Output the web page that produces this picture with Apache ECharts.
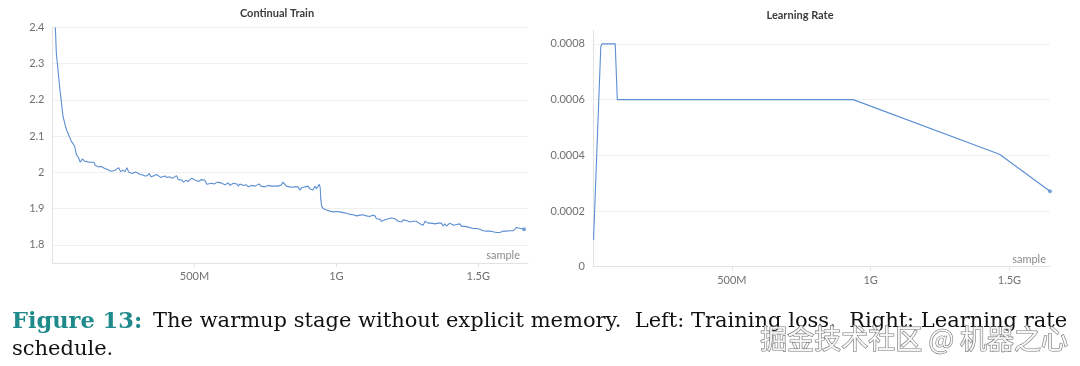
<!DOCTYPE html>
<html>
<head>
<meta charset="utf-8">
<script src="https://cdn.jsdelivr.net/npm/echarts@6/dist/echarts.min.js"></script>
<style>
html,body{margin:0;padding:0;background:#fff;}
#chart{width:1080px;height:366px;}
</style>
</head>
<body>
<div id="chart"></div>
<script>
// ---- Data (x in millions of samples) ----
const lossX = [10,13.5,25,37,49,66,78,84,90,98,105,113,131,146,151,158,164,172,181,190,199,207,213,221,228,233,240,248,256,262,269,
282,291,299,308,318,326,334,341,347,353,359,367,373,381,388,396,404,412,420,428,437,443,449,455,461,470,478,484,490,496,502,508,514,520,525,531,537,543,550,561,569,576,581,588,592,599,608,613,619,625,631,637,643,649,655,660,667,674,682,690,
695,701,707,713,718,728,734,740,748,754,760,765,771,777,783,789,795,801,807,812,818,824,830,836,845,853,859,865,871,877,883,889,895,900,906,912,918,924,930,936,940,943,945,948,954,
965,977,989,995,1001,1012,1024,1036,1048,1059,1071,1083,1094,1106,
1118,1127,1136,1141,1147,1153,1159,1165,1171,1177,1183,1188,1194,1200,1206,1212,1218,1224,1230,1235,1241,1247,1253,1259,1265,1271,1276,1282,1288,1294,1300,1306,1312,1318,1323,1329,1335,1341,1347,1353,1359,1365,1370,1376,1382,1388,1394,1400,1406,1412,1417,1423,1429,1435,1441,1447,1453,1458,1464,1470,1482,1494,1505,1517,1529,1541,1552,1564,1576,1588,1599,1611,1623,1629,1635,1646,1661];
const lossY = [2.400,2.329,2.237,2.154,2.118,2.086,2.072,2.049,2.043,2.028,2.037,2.031,2.028,2.028,2.019,2.021,2.015,2.016,2.012,2.009,2.006,2.003,1.998,2.006,2.008,2.013,2.002,2.006,2.002,2.013,2.000,
1.997,2.001,1.999,1.994,1.993,1.990,1.991,1.997,1.988,1.984,1.991,1.994,1.990,1.986,1.991,1.990,1.986,1.988,1.984,1.986,1.991,1.980,1.976,1.979,1.973,1.978,1.975,1.980,1.984,1.980,1.979,1.982,1.975,1.977,1.980,1.975,1.978,1.967,1.970,1.970,1.968,1.971,1.973,1.970,1.971,1.971,1.966,1.970,1.971,1.964,1.968,1.970,1.966,1.968,1.962,1.968,1.970,1.964,1.966,1.960,
1.962,1.964,1.959,1.962,1.960,1.968,1.962,1.964,1.960,1.962,1.964,1.959,1.962,1.964,1.962,1.966,1.962,1.960,1.966,1.973,1.968,1.962,1.964,1.960,1.959,1.960,1.957,1.960,1.951,1.957,1.953,1.960,1.957,1.962,1.955,1.959,1.951,1.962,1.955,1.960,1.967,1.958,1.926,1.907,1.900,
1.896,1.893,1.891,1.887,1.892,1.891,1.889,1.887,1.884,1.883,1.880,1.882,1.883,1.880,
1.878,1.882,1.880,1.872,1.869,1.871,1.865,1.861,1.869,1.867,1.872,1.869,1.874,1.871,1.872,1.869,1.865,1.869,1.863,1.869,1.865,1.867,1.871,1.863,1.867,1.865,1.861,1.865,1.863,1.858,1.860,1.854,1.865,1.861,1.860,1.863,1.860,1.861,1.858,1.861,1.860,1.856,1.860,1.852,1.858,1.852,1.856,1.860,1.858,1.854,1.852,1.856,1.852,1.858,1.851,1.849,1.851,1.847,1.849,1.845,1.845,1.845,1.843,1.839,1.838,1.838,1.836,1.834,1.834,1.838,1.838,1.839,1.839,1.843,1.848,1.846,1.843];

const lrX = [2, 28, 32, 80, 87.5, 937, 1464, 1646];
const lrY = [0.0000965, 0.00079, 0.0008, 0.0008, 0.0006, 0.0006, 0.000404, 0.000271];

const xTickValues = [500, 1000, 1500];

const titles = ['Continual Train', 'Learning Rate'];
const xName = 'sample';
const captionBold = 'Figure 13:';
const captionLine1 = 'The warmup stage without explicit memory.  Left: Training loss.  Right: Learning rate';
const captionLine2 = 'schedule.';
const watermark = '掘金技术社区 @ 机器之心';

// ---- Build ----
const lossData = lossX.map((x, i) => [x, lossY[i]]);
const lrData = lrX.map((x, i) => [x, lrY[i]]);

const LINE = '#5c8fd2';
const AXIS = '#e3e3e3';
const GRIDC = '#f0f0f0';
const LABEL = '#707070';
const FONT = 'Lato, "Noto Sans", sans-serif';

function xLabel(v) {
  if (Math.abs(v % 500) > 1e-6 || v === 0) return '';
  return v >= 1000 ? (v / 1000) + 'G' : v + 'M';
}
function lossLabel(v) {
  const k = v * 10;
  if (Math.abs(k - Math.round(k)) > 1e-6) return '';
  return String(Math.round(k) / 10);
}
function lrLabel(v) {
  const k = v / 0.0002;
  if (Math.abs(k - Math.round(k)) > 1e-6) return '';
  const r = Math.round(k);
  return r === 0 ? '0' : (r * 0.0002).toFixed(4);
}

function xAxis(gridIndex, max, gap) {
  return {
    type: 'value', gridIndex, min: 0, max, interval: 500,
    name: xName, nameLocation: 'end', nameGap: gap,
    nameTextStyle: { align: 'right', verticalAlign: 'bottom', color: '#8a8a8a', fontSize: 11, fontFamily: FONT, padding: [0, 0, 2, 0] },
    axisLine: { show: true, lineStyle: { color: AXIS, width: 1 } },
    axisTick: { show: true, customValues: xTickValues, length: 4, lineStyle: { color: AXIS } },
    axisLabel: { customValues: xTickValues, formatter: xLabel, color: LABEL, fontSize: 11, fontFamily: FONT, margin: 8 },
    splitLine: { show: false }
  };
}

const chart = echarts.init(document.getElementById('chart'), null, { renderer: 'canvas' });
chart.setOption({
  backgroundColor: '#ffffff',
  animation: false,
  grid: [
    { left: 52.5, top: 27.3, width: 475.5, height: 235.7, containLabel: false },
    { left: 593, top: 30, width: 457, height: 236.7, containLabel: false }
  ],
  xAxis: [ xAxis(0, 1675, -8), xAxis(1, 1646, -4) ],
  yAxis: [
    {
      type: 'value', gridIndex: 0, min: 1.75, max: 2.4, interval: 0.05,
      axisLine: { show: true, lineStyle: { color: AXIS } },
      axisTick: { show: false },
      axisLabel: { formatter: lossLabel, color: LABEL, fontSize: 11, fontFamily: FONT, margin: 8 },
      splitLine: { show: true, lineStyle: { color: ['rgba(0,0,0,0)', GRIDC], width: 1 } }
    },
    {
      type: 'value', gridIndex: 1, min: 0, max: 0.00085, interval: 0.00005,
      axisLine: { show: true, lineStyle: { color: AXIS } },
      axisTick: { show: false },
      axisLabel: { formatter: lrLabel, color: LABEL, fontSize: 11, fontFamily: FONT, margin: 8 },
      splitLine: { show: true, lineStyle: { color: [GRIDC, 'rgba(0,0,0,0)', 'rgba(0,0,0,0)', 'rgba(0,0,0,0)'], width: 1 } }
    }
  ],
  series: [
    { type: 'line', xAxisIndex: 0, yAxisIndex: 0, data: lossData, showSymbol: false, symbol: 'none',
      lineStyle: { color: LINE, width: 1.1 }, clip: true },
    { type: 'scatter', xAxisIndex: 0, yAxisIndex: 0, data: [lossData[lossData.length - 1]], symbolSize: 4,
      itemStyle: { color: LINE } },
    { type: 'line', xAxisIndex: 1, yAxisIndex: 1, data: lrData, showSymbol: false, symbol: 'none',
      lineStyle: { color: LINE, width: 1.1 }, clip: false },
    { type: 'scatter', xAxisIndex: 1, yAxisIndex: 1, data: [lrData[lrData.length - 1]], symbolSize: 4,
      itemStyle: { color: LINE } }
  ],
  graphic: [
    { type: 'text', x: 277, y: 13, style: { text: titles[0], font: 'bold 11px ' + FONT, fill: '#3c3c3c', align: 'center', verticalAlign: 'middle' } },
    { type: 'text', x: 800, y: 15, style: { text: titles[1], font: 'bold 11px ' + FONT, fill: '#3c3c3c', align: 'center', verticalAlign: 'middle' } },
    { type: 'text', x: 12, y: 322, style: { text: captionBold, font: 'bold 22.5px "DejaVu Serif"', fill: '#1f8a8c', align: 'left', verticalAlign: 'middle' } },
    { type: 'text', x: 153, y: 322, style: { text: captionLine1, font: '21px "DejaVu Serif"', fill: '#111', align: 'left', verticalAlign: 'middle' } },
    { type: 'text', x: 12, y: 350, style: { text: captionLine2, font: '21px "DejaVu Serif"', fill: '#111', align: 'left', verticalAlign: 'middle' } },
    { type: 'text', x: 1068, y: 339, z: 100, style: { text: watermark, font: '27px "Noto Sans CJK SC"', fill: 'rgba(255,255,255,0.85)', stroke: '#7a7a7a', lineWidth: 1.2, align: 'right', verticalAlign: 'middle' } }
  ]
});
</script>
</body>
</html>
